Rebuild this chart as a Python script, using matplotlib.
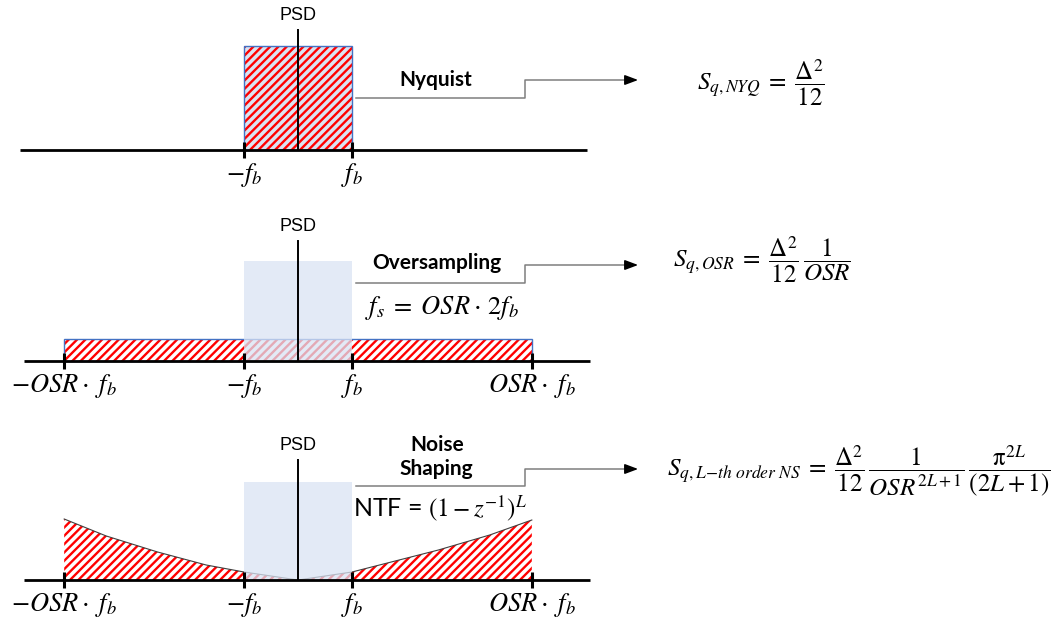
import matplotlib
matplotlib.use("Agg")
import matplotlib.pyplot as plt
from matplotlib.patches import Rectangle, Polygon

# ajustes generales de fuentes y rayado
plt.rcParams['mathtext.fontset'] = 'stix'
plt.rcParams['hatch.linewidth'] = 1.7
plt.rcParams['font.family'] = ['Lato', 'DejaVu Sans']

# frecuencias en unidades de f_b, niveles de PSD en unidades arbitrarias
osr = 4.33
nyq_level = 104
band_level = 100
osr_level = 22

# forma del ruido con noise shaping (NTF = (1 - z^-1)^L)
ns_freq = [-4.33, -3.55, -2.6, -1.7, -1.0, 0.0, 1.0, 1.8, 2.6, 3.55, 4.33]
ns_level = [61, 44, 28, 15, 8, 0, 8, 19, 30, 45, 60]

tick_nyq = [-1, 1]
tick_osr = [-osr, -1, 1, osr]
labels_nyq = [r'$-f_b$', r'$f_b$']
labels_osr = [r'$-OSR\cdot\ f_b$', r'$-f_b$', r'$f_b$', r'$OSR\cdot\ f_b$']

titles = ['Nyquist', 'Oversampling', 'Noise\nShaping']
formulas = [
    r'$S_{q,NYQ}\;=\;\dfrac{\Delta^2}{12}$',
    r'$S_{q,OSR}\;=\;\dfrac{\Delta^2}{12}\,\dfrac{1}{OSR}$',
    r'$S_{q,L\!-\!th\ order\ NS}\;=\;\dfrac{\Delta^2}{12}\,\dfrac{1}{OSR^{2L+1}}\,'
    r'\dfrac{\mathrm{\pi}^{2L}}{(2L+1)}$',
]

red = '#FF0000'
light = '#DAE3F3'
blue = '#4472C4'
gray = '#7F7F7F'

W, H = 1055, 624
fig = plt.figure(figsize=(W / 100, H / 100), dpi=100)

# cada panel: (borde superior, borde inferior, linea del eje) en pixeles
paneles = [(0, 205, 150), (205, 415, 361), (415, 624, 580)]
xmin, xmax = -298 / 54, (W - 298) / 54

axes = []
for top, bot, base in paneles:
    ax = fig.add_axes([0, 1 - bot / H, 1, (bot - top) / H])
    ax.set_xlim(xmin, xmax)
    ax.set_ylim(-(bot - base), base - top)
    ax.axis('off')
    axes.append(ax)


def dibujar_eje(ax, x0, x1, ticks, labels):
    ax.plot([x0, x1], [0, 0], color='black', lw=2, zorder=5, solid_capstyle='butt')
    for t, lab in zip(ticks, labels):
        ax.plot([t, t], [-8, 8], color='black', lw=2.2, zorder=5, solid_capstyle='butt')
        ax.text(t, -25, lab, ha='center', va='center', fontsize=19)
    # eje vertical de la PSD
    ax.plot([0, 0], [0, 120], color='black', lw=1.4, zorder=6)
    ax.text(0, 134, 'PSD', ha='center', va='center', fontsize=13,
            family='Liberation Sans')


def conector(ax, y_bajo, y_alto):
    ax.plot([1.07, 4.2, 4.2, 6.2], [y_bajo, y_bajo, y_alto, y_alto],
            color=gray, lw=1.1, zorder=3, clip_on=False)
    ax.annotate('', xy=(6.35, y_alto), xytext=(6.1, y_alto),
                arrowprops=dict(arrowstyle='-|>,head_length=0.8,head_width=0.3',
                                color='black', lw=1.1))


# --- panel 1: muestreo Nyquist ---
ax = axes[0]
ax.add_patch(Rectangle((-1, 0), 2, nyq_level, facecolor=light, edgecolor=red,
                       hatch='////', lw=0, zorder=1))
ax.add_patch(Rectangle((-1, 0), 2, nyq_level, facecolor='none', edgecolor=blue,
                       lw=1, zorder=2))
dibujar_eje(ax, -5.15, 5.35, tick_nyq, labels_nyq)
ax.text(2.55, 70, titles[0], ha='center', va='center', fontsize=15, weight='bold')
conector(ax, 52, 70)
ax.text(7.39, 67, formulas[0], ha='left', va='center', fontsize=18)

# --- panel 2: sobremuestreo ---
ax = axes[1]
ax.add_patch(Rectangle((-osr, 0), 2 * osr, osr_level, facecolor='white',
                       edgecolor=red, hatch='////', lw=0, zorder=1))
ax.add_patch(Rectangle((-osr, 0), 2 * osr, osr_level, facecolor='none',
                       edgecolor=blue, lw=1, zorder=2))
ax.add_patch(Rectangle((-1, 0), 2, band_level, facecolor=light, edgecolor='none',
                       alpha=0.75, zorder=3))
dibujar_eje(ax, -5.07, 5.41, tick_osr, labels_osr)
ax.text(2.57, 98, titles[1], ha='center', va='center', fontsize=15, weight='bold')
conector(ax, 78, 96)
ax.text(1.24, 53, r'$f_s\;=\;OSR\cdot\,2f_b$', ha='left', va='center', fontsize=19)
ax.text(6.94, 101, formulas[1], ha='left', va='center', fontsize=18)

# --- panel 3: noise shaping ---
ax = axes[2]
pts = [(ns_freq[0], 0)] + list(zip(ns_freq, ns_level)) + [(ns_freq[-1], 0)]
ax.add_patch(Polygon(pts, closed=True, facecolor='white', edgecolor=red,
                     hatch='////', lw=0, zorder=1))
ax.plot(ns_freq, ns_level, color='#404040', lw=0.8, zorder=2)
ax.add_patch(Rectangle((-1, 0), 2, band_level - 2, facecolor=light, edgecolor='none',
                       alpha=0.75, zorder=3))
dibujar_eje(ax, -5.07, 5.41, tick_osr, labels_osr)
ax.text(2.57, 123, titles[2], ha='center', va='center', fontsize=15, weight='bold',
        linespacing=1.3)
conector(ax, 94, 111)
ax.text(1.02, 72, r'NTF = $(1-z^{-1})^L$', ha='left', va='center', fontsize=18)
ax.text(6.83, 109, formulas[2], ha='left', va='center', fontsize=18)

fig.savefig('out.png', dpi=100, facecolor='white')
